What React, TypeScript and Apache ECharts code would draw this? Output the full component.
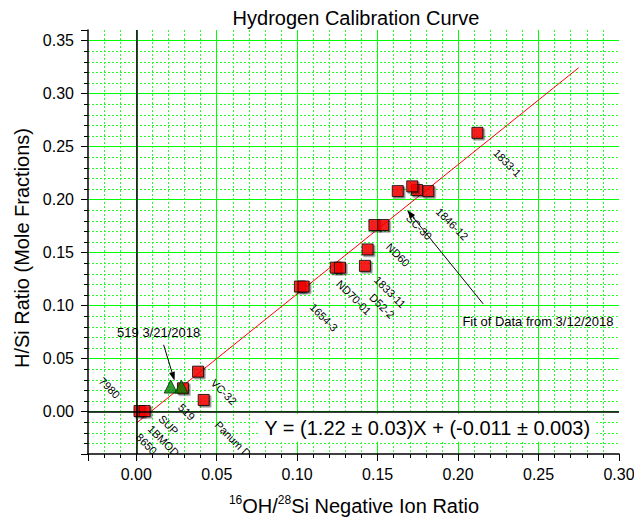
import React, { useEffect, useRef } from "react";
import * as echarts from "echarts";

const FONT = '"Liberation Sans", Arial, Helvetica, sans-serif';

// Calibration standards (red squares)
const calX = [0.212, 0.1625, 0.1745, 0.1715, 0.1815, 0.148, 0.1535, 0.1438, 0.1421, 0.124, 0.1266, 0.1017, 0.104, 0.0384, 0.0419, 0.029, 0.002, 0.0052];
const calY = [0.263, 0.208, 0.209, 0.2125, 0.208, 0.176, 0.176, 0.153, 0.1375, 0.1358, 0.1358, 0.118, 0.118, 0.0377, 0.011, 0.022, 0.0005, 0.0005];

// 519 measured 3/21/2018 (green triangles)
const newX = [0.0214, 0.028];
const newY = [0.0236, 0.0236];

// Fit line end points
const fitX = [0, 0.275];
const fitY = [-0.011, 0.3245];

// Sample names and where they are written
const sampleNames = ["1833-1", "1846-12", "SC-30", "ND60", "1833-11", "D52-2", "ND70-01", "1654-3", "7980", "SUP", "1BMOD", "8650", "519", "Panum Dome", "VC-32"];
const sampleLabelX = [0.2306, 0.1963, 0.1758, 0.1627, 0.1577, 0.1527, 0.1353, 0.1166, -0.0166, 0.0201, 0.017, 0.0064, 0.0313, 0.0648, 0.0544];
const sampleLabelY = [0.2346, 0.1771, 0.1742, 0.1478, 0.1129, 0.0997, 0.1077, 0.0889, 0.0224, -0.0125, -0.0276, -0.0305, -0.0003, -0.0331, 0.0186];

// Annotations
const noteTexts = ["519 3/21/2018", "Fit of Data from 3/12/2018"];
const noteX = [0.0139, 0.2496];
const noteY = [0.0742, 0.0849];
const arrowFromX = [0.017, 0.2156];
const arrowFromY = [0.063, 0.1016];
const arrowToX = [0.0238, 0.1683];
const arrowToY = [0.029, 0.1903];

const equationText = "Y = (1.22 ± 0.03)X + (-0.011 ± 0.003)";
const equationX = [0.1808];
const equationY = [-0.0153];

const titleText = "Hydrogen Calibration Curve";
const yAxisName = "H/Si Ratio (Mole Fractions)";

const X_MIN = -0.03;
const X_MAX = 0.3;
const Y_MIN = -0.04;
const Y_MAX = 0.36;

export default function App() {
  const ref = useRef<HTMLDivElement>(null);

  useEffect(() => {
    if (!ref.current) return;
    const chart = echarts.init(ref.current, undefined, { renderer: "svg" });

    const axisCommon = {
      type: "value",
      axisLine: { show: true, onZero: false, lineStyle: { color: "#000", width: 1.5 } },
      axisTick: { show: true, inside: false, length: 7, lineStyle: { color: "#000", width: 1 } },
      minorTick: { show: true, splitNumber: 5, length: 4, lineStyle: { color: "#000", width: 1 } },
      splitLine: { show: true, showMinLine: false, showMaxLine: false, lineStyle: { color: "#00ff00", width: 1, type: "solid" } },
      minorSplitLine: { show: true, lineStyle: { color: "#22ff22", width: 1, type: [2, 2] } },
      axisLabel: {
        color: "#000",
        fontFamily: FONT,
        fontSize: 16,
        formatter: (v: number) => v.toFixed(2),
      },
    };

    const option: any = {
      animation: false,
      backgroundColor: "#fff",
      grid: { left: 88, right: 15, top: 30, bottom: 64, containLabel: false, outerBoundsMode: "none" },
      xAxis: {
        ...axisCommon,
        min: X_MIN,
        max: X_MAX,
        splitNumber: 7,
        axisLabel: { ...axisCommon.axisLabel, margin: 12, showMinLabel: false, showMaxLabel: true },
      },
      yAxis: {
        ...axisCommon,
        min: Y_MIN,
        max: Y_MAX,
        splitNumber: 8,
        axisLabel: { ...axisCommon.axisLabel, margin: 14, showMinLabel: false, showMaxLabel: false },
      },
      graphic: [
        {
          type: "text",
          x: 356,
          y: 18,
          style: { text: titleText, font: `20px ${FONT}`, fill: "#000", align: "center", verticalAlign: "middle" },
        },
        {
          type: "text",
          x: 22,
          y: 248,
          rotation: Math.PI / 2,
          style: { text: yAxisName, font: `20px ${FONT}`, fill: "#000", align: "center", verticalAlign: "middle" },
        },
        {
          type: "text",
          x: 354,
          y: 506,
          style: {
            text: "{s|16}OH/{s|28}Si Negative Ion Ratio",
            fontFamily: FONT,
            fontSize: 20,
            lineHeight: 24,
            fill: "#000",
            align: "center",
            verticalAlign: "middle",
            rich: {
              s: { fontFamily: FONT, fontSize: 12, lineHeight: 12, verticalAlign: "top", fill: "#000" },
            },
          },
        },
      ],
      series: [
        {
          type: "line",
          data: fitX.map((x, i) => [x, fitY[i]]),
          showSymbol: false,
          symbol: "none",
          lineStyle: { color: "#ff0000", width: 1 },
          z: 2,
          markLine: {
            silent: true,
            symbol: "none",
            label: { show: false },
            lineStyle: { color: "#000", width: 1.5, type: "solid" },
            data: [{ xAxis: 0 }, { yAxis: 0 }],
          },
        },
        {
          type: "custom",
          clip: true,
          z: 3,
          data: sampleLabelX.map((x, i) => [x, sampleLabelY[i]]),
          renderItem: (params: any, api: any) => {
            const p = api.coord([api.value(0), api.value(1)]);
            return {
              type: "text",
              x: p[0],
              y: p[1],
              rotation: -Math.PI / 4,
              style: {
                text: sampleNames[params.dataIndex],
                font: `11px ${FONT}`,
                fill: "#000",
                align: "center",
                verticalAlign: "middle",
              },
            };
          },
        },
        {
          type: "scatter",
          z: 4,
          data: calX.map((x, i) => [x, calY[i]]),
          symbol: "rect",
          symbolSize: 11,
          itemStyle: {
            color: "#ff0000",
            borderColor: "#000",
            borderWidth: 1,
            shadowColor: "rgba(0,0,0,0.55)",
            shadowBlur: 0,
            shadowOffsetX: 1.5,
            shadowOffsetY: 1.5,
          },
        },
        {
          type: "scatter",
          z: 5,
          data: newX.map((x, i) => [x, newY[i]]),
          symbol: "triangle",
          symbolSize: 13,
          itemStyle: { color: "#008000", borderColor: "#003300", borderWidth: 1 },
        },
        {
          type: "custom",
          z: 6,
          data: arrowFromX.map((x, i) => [x, arrowFromY[i], arrowToX[i], arrowToY[i]]),
          renderItem: (params: any, api: any) => {
            const p1 = api.coord([api.value(0), api.value(1)]);
            const p2 = api.coord([api.value(2), api.value(3)]);
            const dx = p2[0] - p1[0];
            const dy = p2[1] - p1[1];
            const len = Math.hypot(dx, dy) || 1;
            const ux = dx / len;
            const uy = dy / len;
            const hl = 9;
            const hw = 3;
            const bx = p2[0] - ux * hl;
            const by = p2[1] - uy * hl;
            return {
              type: "group",
              children: [
                { type: "line", shape: { x1: p1[0], y1: p1[1], x2: bx, y2: by }, style: { stroke: "#000", lineWidth: 1 } },
                {
                  type: "polygon",
                  shape: { points: [[p2[0], p2[1]], [bx - uy * hw, by + ux * hw], [bx + uy * hw, by - ux * hw]] },
                  style: { fill: "#000" },
                },
              ],
            };
          },
        },
        {
          type: "custom",
          z: 6,
          data: noteX.map((x, i) => [x, noteY[i]]),
          renderItem: (params: any, api: any) => {
            const p = api.coord([api.value(0), api.value(1)]);
            return {
              type: "text",
              x: p[0],
              y: p[1],
              style: { text: noteTexts[params.dataIndex], font: `13px ${FONT}`, fill: "#000", align: "center", verticalAlign: "middle" },
            };
          },
        },
        {
          type: "custom",
          z: 7,
          data: equationX.map((x, i) => [x, equationY[i]]),
          renderItem: (params: any, api: any) => {
            const p = api.coord([api.value(0), api.value(1)]);
            return {
              type: "text",
              x: p[0],
              y: p[1],
              style: {
                text: equationText,
                font: `20px ${FONT}`,
                fill: "#000",
                align: "center",
                verticalAlign: "middle",
                backgroundColor: "#fff",
                padding: [4, 6, 4, 6],
              },
            };
          },
        },
      ],
    };

    chart.setOption(option);
    return () => chart.dispose();
  }, []);

  return <div ref={ref} style={{ width: 634, height: 518, position: "absolute", left: 0, top: 0 }} />;
}
